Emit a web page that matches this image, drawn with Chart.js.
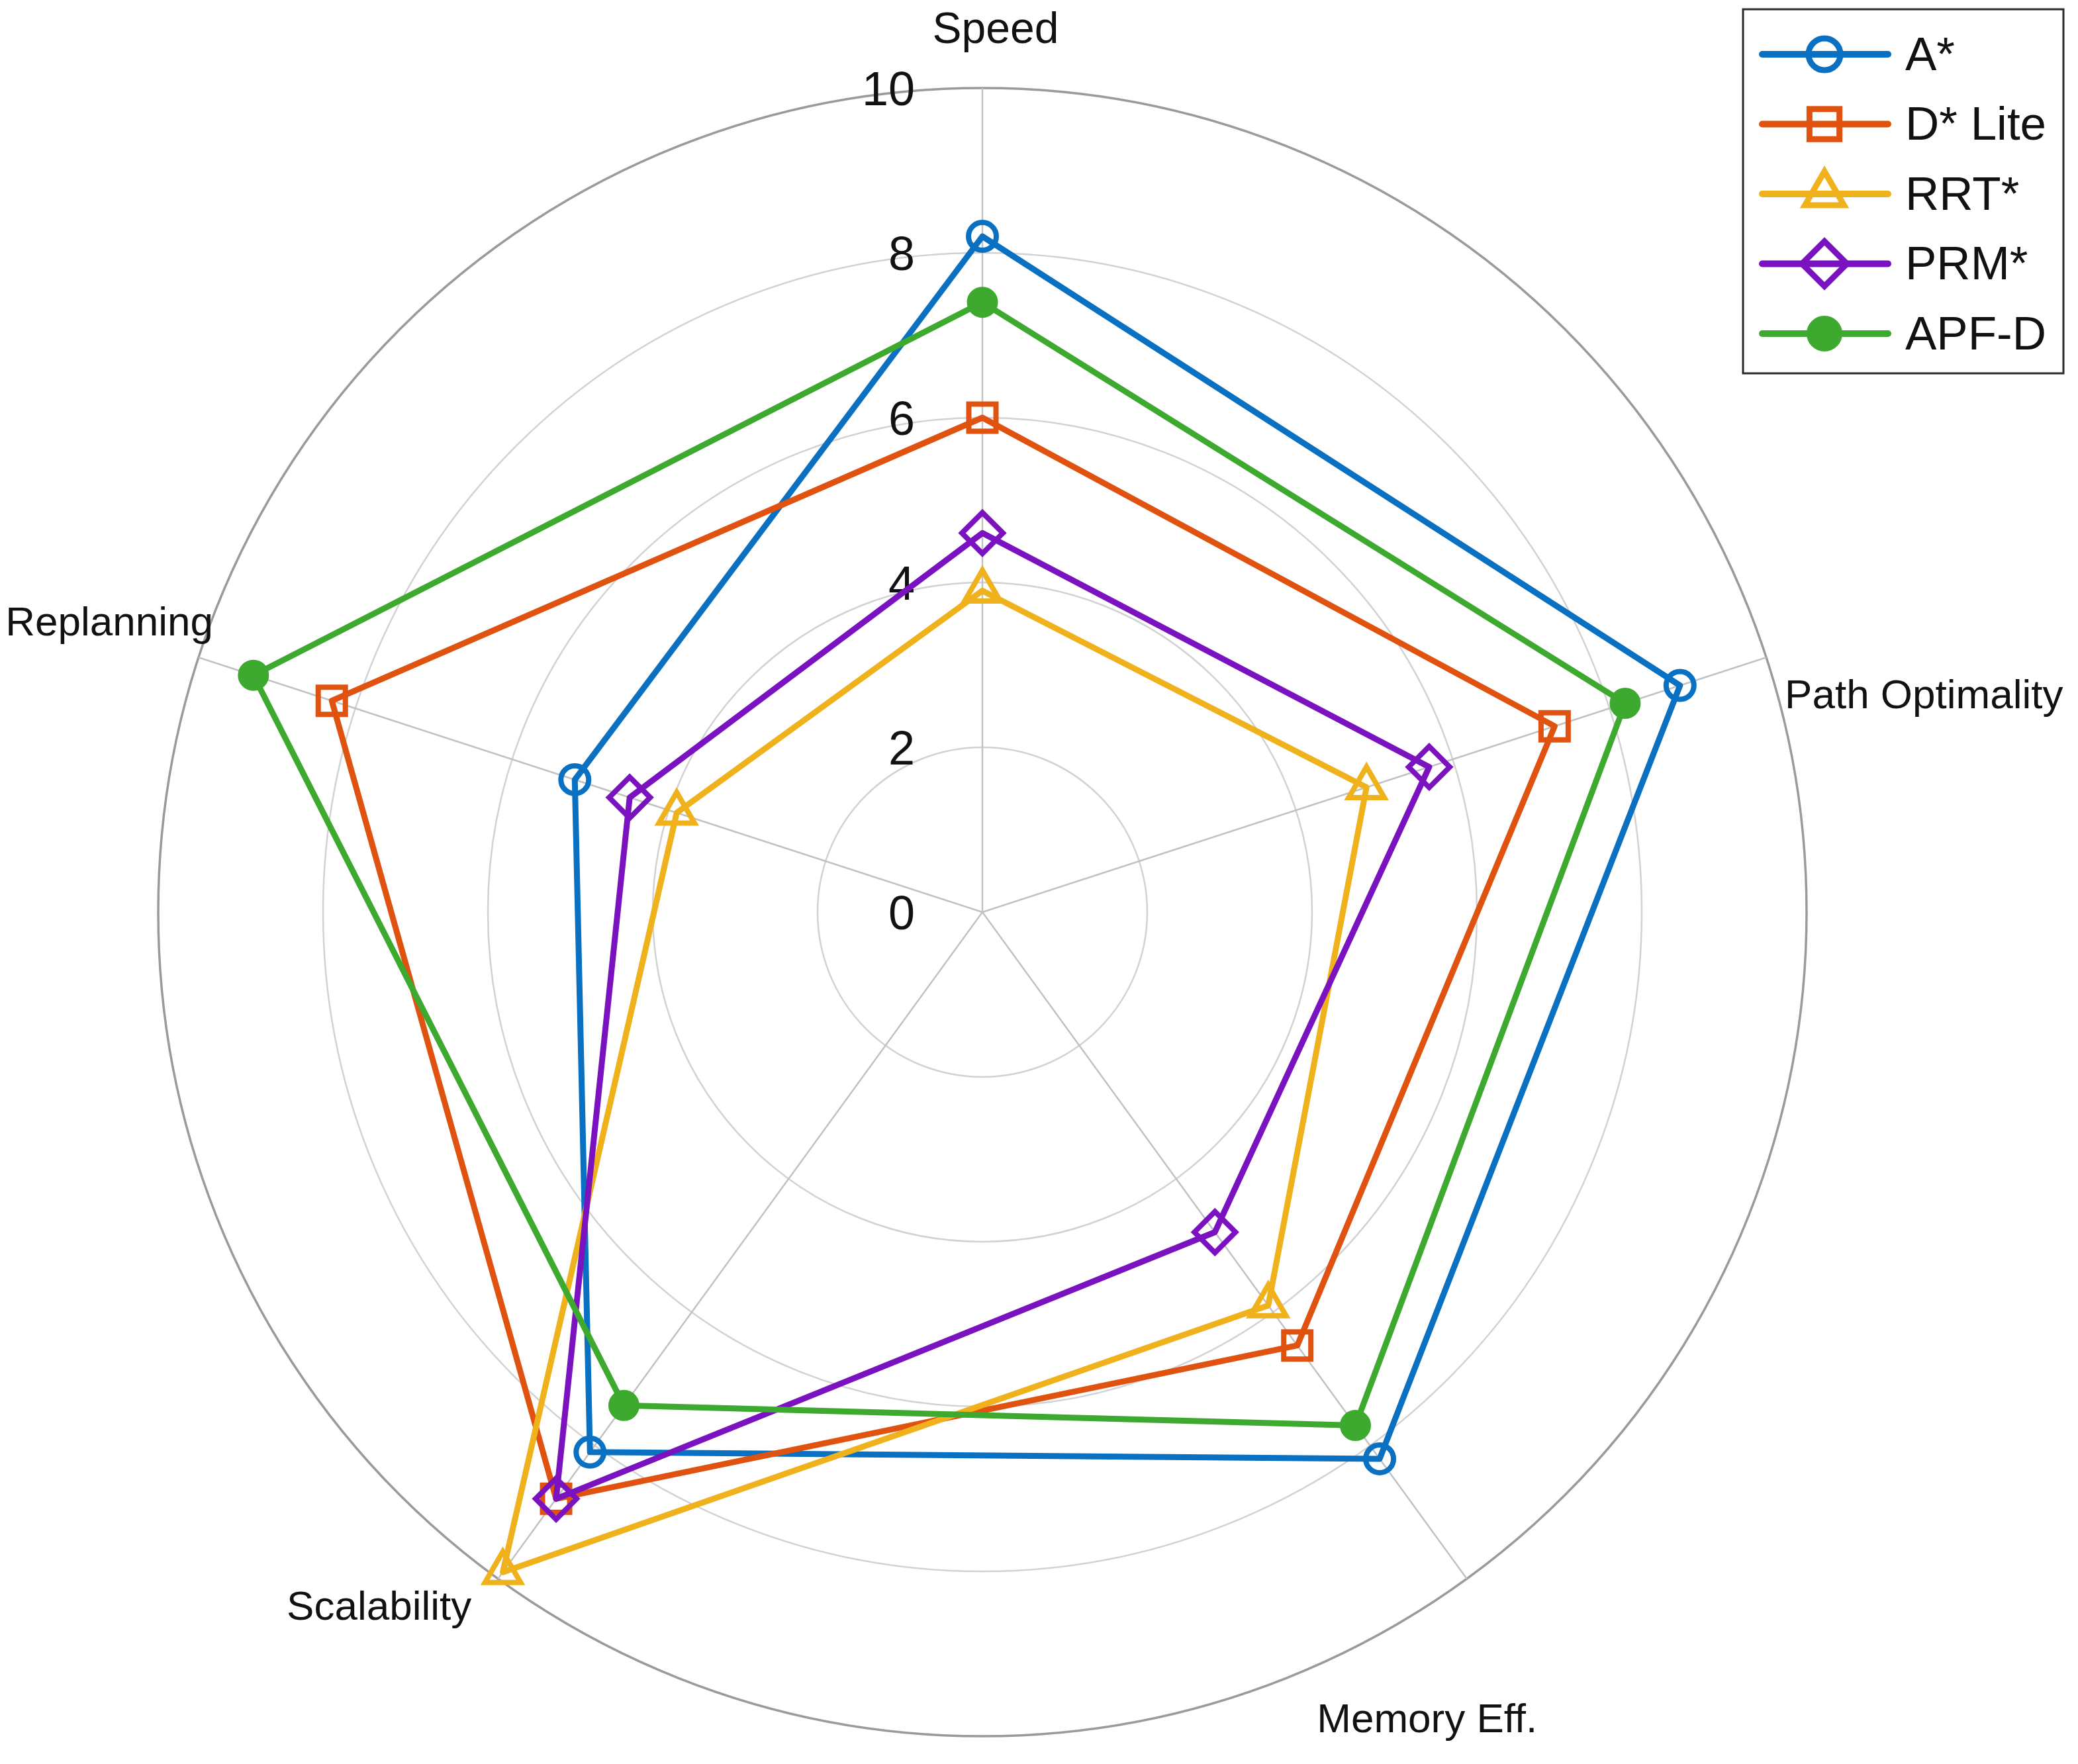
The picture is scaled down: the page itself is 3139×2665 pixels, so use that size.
<!DOCTYPE html>
<html>
<head>
<meta charset="utf-8">
<title>Path planner comparison</title>
<script src="https://cdn.jsdelivr.net/npm/chart.js@4.4.1/dist/chart.umd.min.js"></script>
<style>
  html, body { margin: 0; padding: 0; background: #fff; }
  #wrap { width: 3139px; height: 2665px; position: relative; }
</style>
</head>
<body>
<div id="wrap"><canvas id="radar"></canvas></div>
<script>
// data
const criteria = ["Speed", "Path Optimality", "Memory Eff.", "Scalability", "Replanning"];
const planners = ["A*", "D* Lite", "RRT*", "PRM*", "APF-D"];
const aStar     = [8.2, 8.9, 8.2, 8.1, 5.2];
const dStarLite = [6.0, 7.3, 6.5, 8.8, 8.3];
const rrtStar   = [3.9, 4.9, 5.9, 9.9, 3.9];
const prmStar   = [4.6, 5.7, 4.8, 8.8, 4.5];
const apfD      = [7.4, 8.2, 7.7, 7.4, 9.3];
const tickValues = [0, 2, 4, 6, 8, 10];

const series = [aStar, dStarLite, rrtStar, prmStar, apfD];

// styles
const FONT = '"Liberation Sans", Arial, Helvetica, sans-serif';
const colors  = ["#0a70c2", "#e0520f", "#f0b21c", "#7a12c0", "#3ea92f"];
const markers = ["circle", "rect", "triangle", "rectRot", "circle"];
const radii   = [21, 29, 31, 31, 22];
const filled  = [false, false, false, false, true];

const datasets = planners.map((name, i) => ({
  label: name,
  data: series[i],
  borderColor: colors[i],
  borderWidth: 9,
  borderJoinStyle: "round",
  fill: false,
  pointStyle: markers[i],
  pointRadius: radii[i],
  pointBorderWidth: filled[i] ? 3 : 8,
  pointBorderColor: colors[i],
  pointBackgroundColor: filled[i] ? colors[i] : "rgba(0,0,0,0)",
  pointHoverRadius: radii[i],
  order: planners.length - i
}));

// tick numbers just left of the vertical spoke, under the lines
const tickLabels = {
  id: "tickLabels",
  beforeDatasetsDraw(chart) {
    const s = chart.scales.r;
    const ctx = chart.ctx;
    ctx.save();
    ctx.font = "72px " + FONT;
    ctx.fillStyle = "#111";
    ctx.textAlign = "right";
    ctx.textBaseline = "middle";
    s.ticks.forEach(t => {
      const d = s.getDistanceFromCenterForValue(t.value);
      ctx.fillText(String(t.value), s.xCenter - 102, s.yCenter - d + 6);
    });
    ctx.restore();
  }
};

// axis names placed near the spoke ends
const labelPlace = [
  { dx: 20,  dy: -86, align: "center", size: 66 },
  { dx: 28,  dy: 60,  align: "left",   size: 62 },
  { dx: -60, dy: 215, align: "center", size: 62 },
  { dx: -40, dy: 45,  align: "right",  size: 62 },
  { dx: 22,  dy: -50, align: "right",  size: 62 }
];
const axisLabels = {
  id: "axisLabels",
  afterDraw(chart) {
    const s = chart.scales.r;
    const ctx = chart.ctx;
    ctx.save();
    ctx.fillStyle = "#111";
    ctx.textBaseline = "middle";
    criteria.forEach((name, i) => {
      const p = s.getPointPosition(i, s.drawingArea);
      const o = labelPlace[i];
      ctx.font = o.size + "px " + FONT;
      ctx.textAlign = o.align;
      ctx.fillText(name, p.x + o.dx, p.y + o.dy);
    });
    ctx.restore();
  }
};

// boxed legend in the upper right corner
const boxLegend = {
  id: "boxLegend",
  afterDraw(chart) {
    const ctx = chart.ctx;
    const x0 = 2633, y0 = 14, w = 484, h = 550;
    ctx.save();
    ctx.fillStyle = "#fff";
    ctx.fillRect(x0, y0, w, h);
    ctx.strokeStyle = "#2a2a2a";
    ctx.lineWidth = 3;
    ctx.strokeRect(x0, y0, w, h);
    ctx.font = "71px " + FONT;
    ctx.textBaseline = "middle";
    ctx.textAlign = "left";
    chart.data.datasets.forEach((ds, i) => {
      const y = y0 + 68 + i * 105.5;
      ctx.strokeStyle = ds.borderColor;
      ctx.lineWidth = 10;
      ctx.lineCap = "round";
      ctx.beginPath();
      ctx.moveTo(2662, y);
      ctx.lineTo(2852, y);
      ctx.stroke();
      ctx.fillStyle = ds.pointBackgroundColor;
      ctx.lineWidth = ds.pointBorderWidth + 1;
      Chart.helpers.drawPoint(ctx, {
        pointStyle: ds.pointStyle,
        radius: ds.pointRadius + 3,
        rotation: 0,
        borderWidth: ds.pointBorderWidth + 1
      }, 2756, y);
      ctx.fillStyle = "#111";
      ctx.fillText(ds.label, 2878, y + 4);
    });
    ctx.restore();
  }
};

new Chart(document.getElementById("radar"), {
  type: "radar",
  data: { labels: criteria, datasets: datasets },
  options: {
    responsive: true,
    maintainAspectRatio: false,
    animation: false,
    layout: { padding: { left: 239, right: 410, top: 133, bottom: 42 } },
    elements: { line: { tension: 0 } },
    scales: {
      r: {
        min: tickValues[0],
        max: tickValues[tickValues.length - 1],
        startAngle: 0,
        ticks: { stepSize: tickValues[1] - tickValues[0], display: false },
        grid: {
          circular: true,
          color: c => c.tick && c.tick.value === 10 ? "#9a9a9a" : "#d2d2d2",
          lineWidth: c => c.tick && c.tick.value === 10 ? 3.5 : 2.5
        },
        angleLines: { color: "#c2c2c2", lineWidth: 2.5 },
        pointLabels: { display: false }
      }
    },
    plugins: {
      legend: { display: false },
      tooltip: { enabled: false }
    }
  },
  plugins: [tickLabels, axisLabels, boxLegend]
});
</script>
</body>
</html>
